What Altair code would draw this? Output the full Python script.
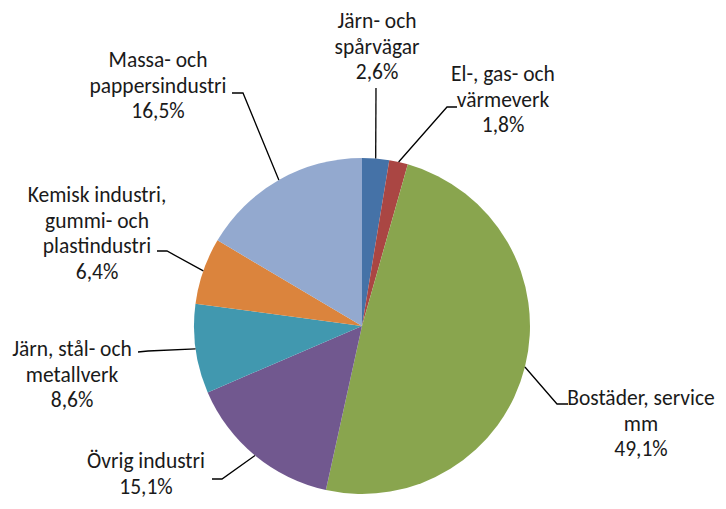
import math
import altair as alt
import pandas as pd

# ---- data ----
categories = [
    "Järn- och spårvägar",
    "El-, gas- och värmeverk",
    "Bostäder, service mm",
    "Övrig industri",
    "Järn, stål- och metallverk",
    "Kemisk industri, gummi- och plastindustri",
    "Massa- och pappersindustri",
]
label_lines = [
    ["Järn- och", "spårvägar"],
    ["El-, gas- och", "värmeverk"],
    ["Bostäder, service", "mm"],
    ["Övrig industri"],
    ["Järn, stål- och", "metallverk"],
    ["Kemisk industri,", "gummi- och", "plastindustri"],
    ["Massa- och", "pappersindustri"],
]
values = [2.6, 1.8, 49.1, 15.1, 8.6, 6.4, 16.5]
colors = ["#4572A7", "#AA4643", "#89A54E", "#71588F", "#4198AF", "#DB843D", "#93A9CF"]

# ---- layout (pixels in the plot area) ----
W, H = 710, 493
CX, CY, R = 354, 318, 168
LINE_H = 25.5
# label block: centre x, first line middle y
label_pos = [(369, 14), (495, 67), (633, 391), (138, 454), (64, 342), (89, 188), (150, 53)]
# leader: elbow point and end point
leader_pts = [
    ((368, 80), (368, 80)),
    ((439, 99), (449, 99)),
    ((549, 396), (560, 396)),
    ((214, 471), (204, 471)),
    ((140, 343), (130, 344)),
    ((159, 243), (149, 243)),
    ((235, 85), (224, 85)),
]

total = sum(values)
pie = pd.DataFrame({"category": categories, "value": values, "order": range(len(values))})

line_rows = []
text_rows = []
cum = 0.0
for i, (cat, v) in enumerate(zip(categories, values)):
    mid = (cum + v / 2) / total * 2 * math.pi
    cum += v
    ex = CX + R * math.sin(mid)
    ey = CY - R * math.cos(mid)
    (bx, by), (fx, fy) = leader_pts[i]
    for j, (px, py) in enumerate([(ex, ey), (bx, by), (fx, fy)]):
        line_rows.append({"category": cat, "k": j, "x": px, "y": py})
    lx, ly = label_pos[i]
    lines = label_lines[i] + [f"{v:.1f}%".replace(".", ",")]
    for j, t in enumerate(lines):
        text_rows.append({"category": cat, "t": t, "x": lx, "y": ly + j * LINE_H})

lines_df = pd.DataFrame(line_rows)
text_df = pd.DataFrame(text_rows)

xs = alt.Scale(domain=[0, W])
ys = alt.Scale(domain=[H, 0])

arcs = alt.Chart(pie).mark_arc(outerRadius=R).encode(
    theta=alt.Theta("value:Q", stack=True),
    order=alt.Order("order:Q"),
    color=alt.Color("category:N", scale=alt.Scale(domain=categories, range=colors), legend=None),
    x=alt.value(CX),
    y=alt.value(CY),
)

leaders = alt.Chart(lines_df).mark_line(color="black", strokeWidth=1.3).encode(
    x=alt.X("x:Q", scale=xs, axis=None),
    y=alt.Y("y:Q", scale=ys, axis=None),
    detail="category:N",
    order="k:Q",
)

texts = alt.Chart(text_df).mark_text(
    font="Carlito, Lato", fontSize=21.5, color="#1a1a1a", align="center", baseline="middle"
).encode(
    x=alt.X("x:Q", scale=xs, axis=None),
    y=alt.Y("y:Q", scale=ys, axis=None),
    text="t:N",
)

chart = alt.layer(arcs, leaders, texts).properties(
    width=W, height=H, autosize=alt.AutoSizeParams(type="none"), padding=0
).configure_view(stroke=None)

chart.save("out.html", embed_options={"renderer": "svg", "actions": False})
